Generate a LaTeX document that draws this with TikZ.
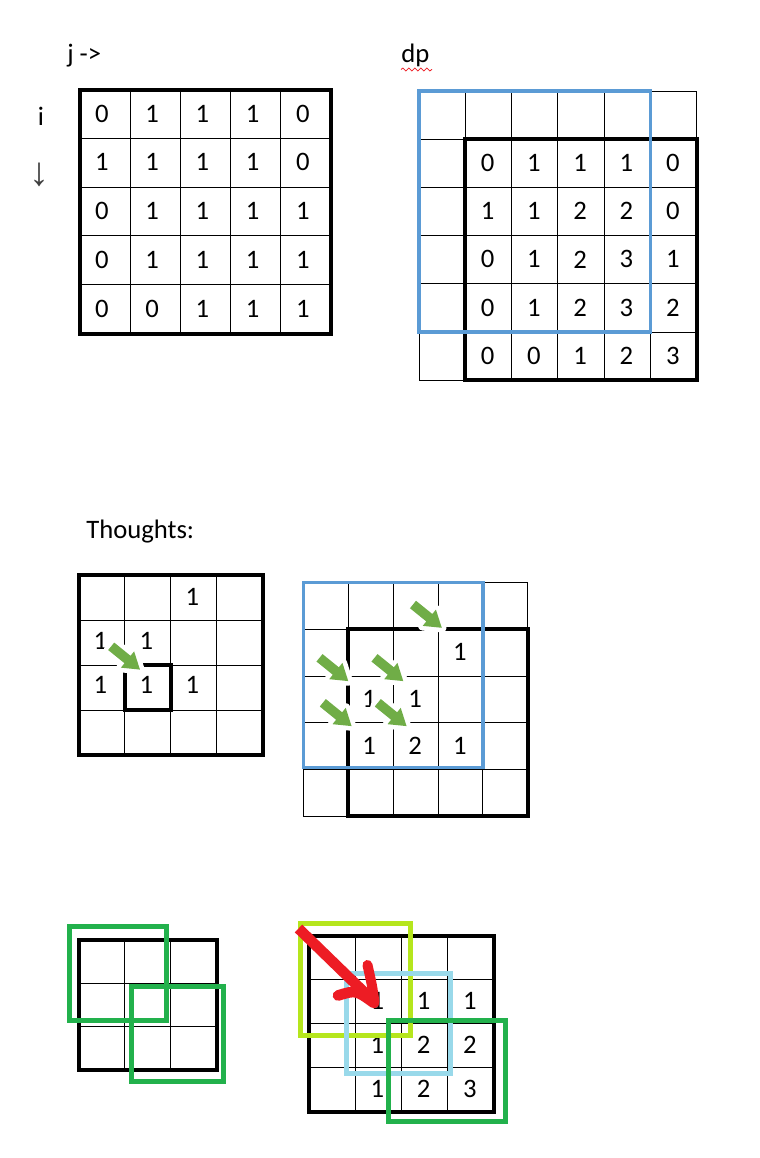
\documentclass[tikz,border=0pt]{standalone}
\usepackage{fontspec}
\setmainfont{Carlito}
\newfontfamily\arrowfont{Liberation Sans}
\usetikzlibrary{decorations.pathmorphing}
\definecolor{boxblue}{HTML}{5B9BD5}
\definecolor{arrgreen}{HTML}{70AD47}
\definecolor{boxgreen}{HTML}{22B14C}
\definecolor{boxlime}{HTML}{B5E61D}
\definecolor{boxcyan}{HTML}{99D9EA}
\definecolor{arrred}{HTML}{ED1C24}
\newcommand\mygrid[6]{% x0 y0 w h cols rows
  \foreach \k in {0,...,#5} \draw[thinline] ({#1+\k*#3},#2) -- ({#1+\k*#3},{#2+#6*#4});
  \foreach \k in {0,...,#6} \draw[thinline] (#1,{#2+\k*#4}) -- ({#1+#5*#3},{#2+\k*#4});}
\newcommand\greenarrow[2]{% tail x, tail y
  \begin{scope}[shift={(#1,#2)}, rotate=-39]
    \filldraw[draw=white, fill=white, line width=7pt, line join=round]
      (0,-4.8) -- (21,-4.8) -- (21,-10.5) -- (37,0) -- (21,10.5) -- (21,4.8) -- (0,4.8) -- cycle;
    \fill[arrgreen]
      (0,-4.8) -- (21,-4.8) -- (21,-10.5) -- (37,0) -- (21,10.5) -- (21,4.8) -- (0,4.8) -- cycle;
  \end{scope}}
\begin{document}
\begin{tikzpicture}[x=0.75pt,y=-0.75pt,
  thinline/.style={line width=0.75pt, black},
  bordline/.style={line width=3pt, black},
  num/.style={inner sep=0pt, font=\fontsize{20}{22}\selectfont},
  lbl/.style={inner sep=0pt, anchor=base west, font=\fontsize{20}{22}\selectfont},
  colbox/.style={line width=3.75pt}]
\useasboundingbox (0,0) rectangle (760,1158);
\fill[white] (0,0) rectangle (760,1158);

% ---------- labels ----------
\node[lbl] (jlbl) at (67,62) {j ->};
\node[lbl] (ilbl) at (37.5,125) {i};
\node[inner sep=0pt, text=black!75, font=\arrowfont\fontsize{30}{32}\selectfont] (darr) at (39.5,175) {↓};
\node[lbl] (dplbl) at (401,62) {dp};
\draw[arrred, line width=0.6pt, decorate, decoration={snake, amplitude=1.1pt, segment length=4.5pt}] (401,69.5) -- (432,69.5);
\node[lbl] (thoughts) at (86,538) {Thoughts:};

% ---------- grid A ----------
\mygrid{80}{89.5}{50.2}{48.8}{5}{5}
\draw[bordline] (80,89.5) rectangle (331,333.5);
\foreach \row [count=\r from 0] in {{0,1,1,1,0},{1,1,1,1,0},{0,1,1,1,1},{0,1,1,1,1},{0,0,1,1,1}}
  \foreach \v [count=\c from 0] in \row
    \node[num] (a-\r-\c) at ({80+\c*50.2+22},{89.5+\r*48.8+24}) {\v};

% ---------- grid B (dp) ----------
\mygrid{419}{91}{46.3}{48.2}{6}{6}
\draw[bordline] (465.3,139.2) rectangle (696.8,380.2);
\foreach \row [count=\r from 1] in {{0,1,1,1,0},{1,1,2,2,0},{0,1,2,3,1},{0,1,2,3,2},{0,0,1,2,3}}
  \foreach \v [count=\c from 1] in \row
    \node[num] (b-\r-\c) at ({419+\c*46.3+22.3},{91+\r*48.2+23.8}) {\v};
\draw[boxblue, line width=2.6pt] (419,91) rectangle (650.5,332);

% ---------- grid C ----------
\mygrid{79}{575}{45.9}{45}{4}{4}
\draw[bordline] (79,575) rectangle (262.6,755);
\node[num] (c-0-2) at ({79+2*45.9+21.5},597) {1};
\node[num] (c-1-0) at ({79+0*45.9+21.5},641) {1};
\node[num] (c-1-1) at ({79+1*45.9+21.5},641) {1};
\node[num] (c-2-0) at ({79+0*45.9+21.5},685) {1};
\node[num] (c-2-1) at ({79+1*45.9+21.5},685) {1};
\node[num] (c-2-2) at ({79+2*45.9+21.5},685) {1};
\draw[line width=2.6pt, black] (124.9,665) rectangle (170.8,710);
\greenarrow{111.2}{646.3}

% ---------- grid D ----------
\mygrid{303.3}{582.7}{44.9}{46.7}{5}{5}
\draw[bordline] (348.2,629.4) rectangle (527.8,816.2);
\node[num] (d-1-3) at ({303.3+3*44.9+22},{582.7+1*46.7+23}) {1};
\node[num] (d-2-1) at ({303.3+1*44.9+21},{582.7+2*46.7+23}) {1};
\node[num] (d-2-2) at ({303.3+2*44.9+22},{582.7+2*46.7+23}) {1};
\node[num] (d-3-1) at ({303.3+1*44.9+21},{582.7+3*46.7+23}) {1};
\node[num] (d-3-2) at ({303.3+2*44.9+22},{582.7+3*46.7+23}) {2};
\node[num] (d-3-3) at ({303.3+3*44.9+22},{582.7+3*46.7+23}) {1};
\draw[boxblue, line width=2.6pt] (303.3,582.7) rectangle (482.9,767.5);
\greenarrow{413}{604.5}
\greenarrow{319.5}{657.8}
\greenarrow{374.5}{657.8}
\greenarrow{322.8}{702.8}
\greenarrow{377.8}{702.8}

% ---------- grid E ----------
\mygrid{79}{939.5}{45.9}{43.5}{3}{3}
\draw[bordline] (79,939.5) rectangle (216.7,1070);
\draw[boxgreen, colbox] (69.3,926) rectangle (166.7,1020);
\draw[boxgreen, colbox] (131,986) rectangle (223.3,1081.7);

% ---------- grid F ----------
\mygrid{309.3}{936}{46.2}{43.9}{4}{4}
\draw[bordline] (309.3,936) rectangle (494.1,1111.6);
\foreach \row [count=\r from 1] in {{1,1,1},{1,2,2},{1,2,3}}
  \foreach \v [count=\c from 1] in \row
    \node[num] (f-\r-\c) at ({309.3+\c*46.2+22},{936+\r*43.9+21.5}) {\v};
\draw[boxlime, colbox] (300,923.3) rectangle (410,1035);
\draw[boxcyan, colbox] (346.7,973.3) rectangle (450.7,1073.3);
\draw[boxgreen, colbox] (388.3,1020) rectangle (505.7,1121.7);
% red arrow
\draw[arrred, line width=8pt] (298.5,928.5) -- (368,996);
\draw[arrred, line width=8pt, line cap=round] (338,995.5) .. controls (356,990) .. (374,1003);
\draw[arrred, line width=7.5pt, line cap=round] (367.5,965) .. controls (372,985) .. (374.5,1002);
\end{tikzpicture}
\end{document}
